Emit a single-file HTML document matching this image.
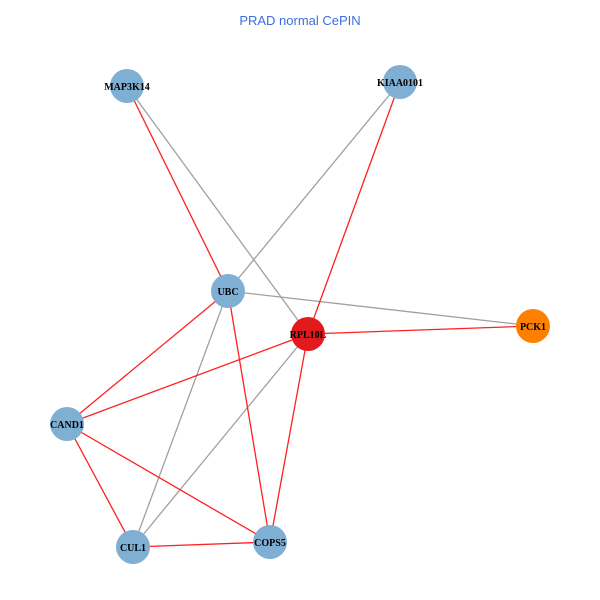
<!DOCTYPE html>
<html><head><style>body{margin:0;background:#fff}svg{display:block}</style></head><body>
<svg width="600" height="600" xmlns="http://www.w3.org/2000/svg">
<rect width="600" height="600" fill="#fff"/>
<text x="300" y="25" text-anchor="middle" font-family="Liberation Sans, sans-serif" font-size="13" fill="#3b6fe0">PRAD normal CePIN</text>
<g stroke-width="1.3" fill="none">
<line x1="127" y1="86" x2="308" y2="334" stroke="#a0a0a0"/>
<line x1="400" y1="82" x2="228" y2="291" stroke="#a0a0a0"/>
<line x1="228" y1="291" x2="533" y2="326" stroke="#a0a0a0"/>
<line x1="228" y1="291" x2="133" y2="547" stroke="#a0a0a0"/>
<line x1="308" y1="334" x2="133" y2="547" stroke="#a0a0a0"/>
<line x1="127" y1="86" x2="228" y2="291" stroke="#ff2020"/>
<line x1="400" y1="82" x2="308" y2="334" stroke="#ff2020"/>
<line x1="228" y1="291" x2="67" y2="424" stroke="#ff2020"/>
<line x1="308" y1="334" x2="67" y2="424" stroke="#ff2020"/>
<line x1="308" y1="334" x2="533" y2="326" stroke="#ff2020"/>
<line x1="308" y1="334" x2="270" y2="542" stroke="#ff2020"/>
<line x1="228" y1="291" x2="270" y2="542" stroke="#ff2020"/>
<line x1="67" y1="424" x2="133" y2="547" stroke="#ff2020"/>
<line x1="67" y1="424" x2="270" y2="542" stroke="#ff2020"/>
<line x1="133" y1="547" x2="270" y2="542" stroke="#ff2020"/>
</g>
<g>
<circle cx="127" cy="86" r="17" fill="#7fafd3"/>
<circle cx="400" cy="82" r="17" fill="#7fafd3"/>
<circle cx="228" cy="291" r="17" fill="#7fafd3"/>
<circle cx="308" cy="334" r="17" fill="#e31a1c"/>
<circle cx="533" cy="326" r="17" fill="#ff8000"/>
<circle cx="67" cy="424" r="17" fill="#7fafd3"/>
<circle cx="133" cy="547" r="17" fill="#7fafd3"/>
<circle cx="270" cy="542" r="17" fill="#7fafd3"/>
</g>
<g font-family="Liberation Serif, serif" font-size="10" font-weight="bold" text-anchor="middle" fill="#000">
<text x="127" y="90">MAP3K14</text>
<text x="400" y="86">KIAA0101</text>
<text x="228" y="295">UBC</text>
<text x="308" y="338">RPL10L</text>
<text x="533" y="330">PCK1</text>
<text x="67" y="428">CAND1</text>
<text x="133" y="551">CUL1</text>
<text x="270" y="546">COPS5</text>
</g>
</svg>
</body></html>
